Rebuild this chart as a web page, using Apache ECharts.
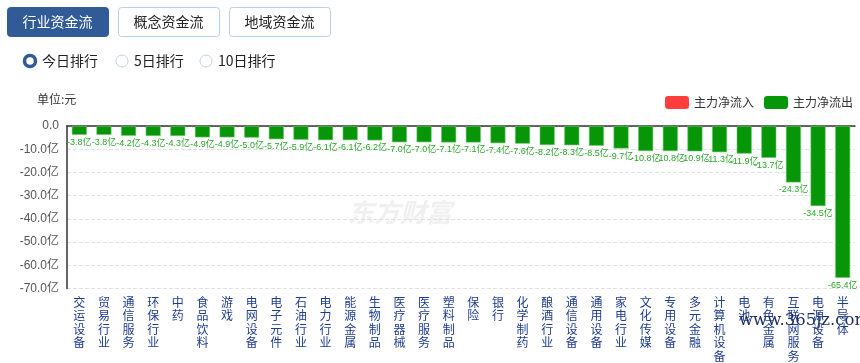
<!DOCTYPE html>
<html><head><meta charset="utf-8">
<script src="https://cdn.jsdelivr.net/npm/echarts@6/dist/echarts.min.js"></script>
<style>html,body{margin:0;padding:0;background:#fff}#c{width:860px;height:363px}</style>
</head><body><div id="c"></div>
<script>
const categories = ['交运设备','贸易行业','通信服务','环保行业','中药','食品饮料','游戏','电网设备','电子元件','石油行业','电力行业','能源金属','生物制品','医疗器械','医疗服务','塑料制品','保险','银行','化学制药','酿酒行业','通信设备','通用设备','家电行业','文化传媒','专用设备','多元金融','计算机设备','电池','有色金属','互联网服务','电源设备','半导体'];
const outflow = [-3.8,-3.8,-4.2,-4.3,-4.3,-4.9,-4.9,-5.0,-5.7,-5.9,-6.1,-6.1,-6.2,-7.0,-7.0,-7.1,-7.1,-7.4,-7.6,-8.2,-8.3,-8.5,-9.7,-10.8,-10.8,-10.9,-11.3,-11.9,-13.7,-24.3,-34.5,-65.4];
const tabs = ['行业资金流','概念资金流','地域资金流'];
const radios = ['今日排行','5日排行','10日排行'];
const legendNames = ['主力净流入','主力净流出'];

const chart = echarts.init(document.getElementById('c'));
const font = '"Microsoft YaHei","Noto Sans CJK SC",sans-serif';
const numFont = '"Liberation Sans","Noto Sans CJK SC",sans-serif';
const graphics = [];
tabs.forEach((t,i)=>{
  const x = 7 + i*111;
  graphics.push({type:'rect',left:x,top:7,shape:{width:101,height:29,r:3},
    style:{fill:i===0?'#315b97':'#fff',stroke:i===0?'#315b97':'#b8d0ea',lineWidth:1}});
  graphics.push({type:'text',x:x+50.5,y:21.5,style:{text:t,fill:i===0?'#fff':'#222',font:'14px '+font,textAlign:'center',textVerticalAlign:'middle'}});
});
const rx=[30,122,206];
radios.forEach((t,i)=>{
  if(i===0){
    graphics.push({type:'circle',shape:{cx:rx[i],cy:61,r:5.5},style:{fill:'#fff',stroke:'#315b97',lineWidth:3.5}});
  } else {
    graphics.push({type:'circle',shape:{cx:rx[i],cy:61,r:6},style:{fill:'#fff',stroke:'#bcd3ea',lineWidth:1}});
  }
  graphics.push({type:'text',x:rx[i]+12,y:61,style:{text:t,fill:'#222',font:'14px '+font,textVerticalAlign:'middle'}});
});
graphics.push({type:'text',x:37,y:99,style:{text:'单位:元',fill:'#333',font:'12px '+font,textVerticalAlign:'middle'}});
graphics.push({type:'text',x:400,y:212,z:-1,style:{text:'东方财富',fill:'#f0f0f0',font:'italic bold 26px '+font,textAlign:'center',textVerticalAlign:'middle'}});
graphics.push({type:'text',x:739,y:321,z:100,style:{text:'www.365jz.com',fill:'#1d2f66',font:'16.5px "DejaVu Serif",serif',textVerticalAlign:'middle'}});

chart.setOption({
  animation:false,
  textStyle:{fontFamily:font},
  graphic:graphics,
  legend:{right:2,top:91,itemWidth:24,itemHeight:13,itemGap:10,
    textStyle:{fontSize:12,color:'#333'},
    data:[{name:legendNames[0],itemStyle:{color:'#ff3d3d',borderWidth:0}},{name:legendNames[1],itemStyle:{color:'#079607',borderWidth:0}}]},
  grid:{left:67,right:5,top:126,bottom:70},
  xAxis:[{type:'category',data:categories,position:'bottom',
    axisLine:{show:false},axisTick:{show:false},
    axisLabel:{interval:0,margin:7,color:'#1c3c91',fontSize:12,lineHeight:13.5,verticalAlign:'top',
      formatter:v=>v.split('').join('\n')}},
   {type:'category',data:categories,position:'top',axisLine:{show:true,lineStyle:{color:'#333',width:1.5}},axisTick:{show:false},axisLabel:{show:false}}],
  yAxis:{type:'value',min:-70,max:0,interval:10,
    axisLine:{show:true,lineStyle:{color:'#333',width:1.5}},axisTick:{show:false},
    splitLine:{lineStyle:{type:'dashed',color:'#e0e0e0'}},
    axisLabel:{color:'#555',fontSize:12,margin:8,fontFamily:numFont,formatter:v=>v===0?'0.0':v.toFixed(1)+'亿'}},
  series:[
    {name:legendNames[0],type:'bar',data:[]},
    {name:legendNames[1],type:'bar',data:outflow,barWidth:15,barGap:'-100%',
      itemStyle:{color:'#079607',borderColor:'#6ec46e',borderWidth:0.6},
      label:{show:true,position:'bottom',distance:3,color:'#2aa52a',fontSize:9,fontFamily:numFont,formatter:p=>p.value.toFixed(1)+'亿'}}
  ]
});
</script></body></html>
